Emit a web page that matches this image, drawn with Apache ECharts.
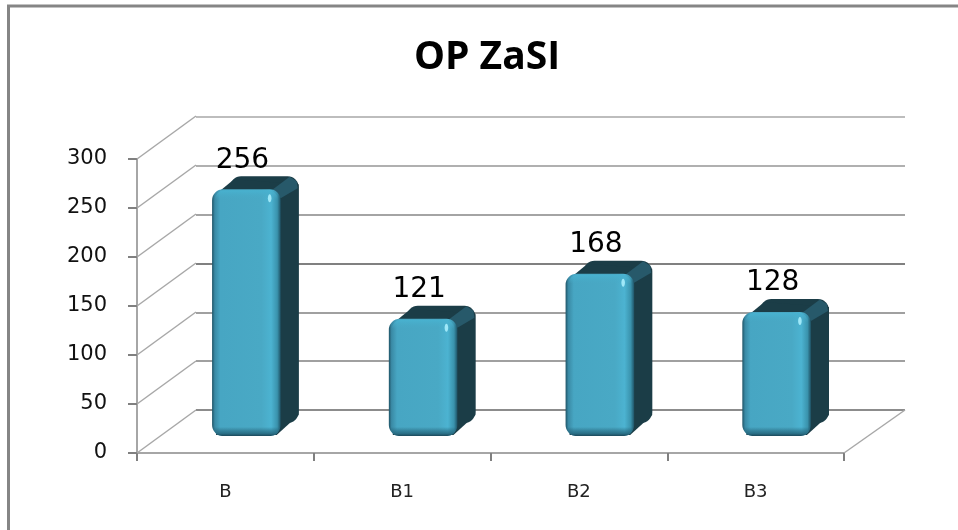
<!DOCTYPE html>
<html>
<head>
<meta charset="utf-8">
<style>html,body{margin:0;padding:0;background:#fff}#c{width:958px;height:530px}</style>
<script src="https://cdn.jsdelivr.net/npm/echarts@6/dist/echarts.min.js"></script>
</head>
<body>
<div id="c"></div>
<script>
const titleText = 'OP ZaSI';
const categories = ['B', 'B1', 'B2', 'B3'];
const values = [256, 121, 168, 128];
const yTicks = [0, 50, 100, 150, 200, 250, 300];

const FONT = '"DejaVu Sans", sans-serif';
const DEPTH_X = 59, DEPTH_Y = -43;   // wall depth
const BAR_DX = 18, BAR_DY = -13;     // bar depth

const chart = echarts.init(document.getElementById('c'), null, {renderer: 'canvas'});

function wallLines(params, api) {
  const left = api.coord([0, api.value(0)]);
  const x = left[0] - api.size([1, 0])[0] / 2;
  return {type: 'line', silent: true,
    shape: {x1: x, y1: left[1], x2: x + DEPTH_X, y2: left[1] + DEPTH_Y},
    style: {stroke: '#a8a8a8', lineWidth: 1.5}};
}
function floorEdge(params, api) {
  const p = api.coord([3, 0]);
  const x = p[0] + api.size([1, 0])[0] / 2;
  return {type: 'line', silent: true,
    shape: {x1: x, y1: p[1], x2: x + 61, y2: p[1] + DEPTH_Y},
    style: {stroke: '#a8a8a8', lineWidth: 1.5}};
}
function bar3d(params, api) {
  const i = api.value(0), v = api.value(1);
  const top = api.coord([i, v]), base = api.coord([i, 0]);
  const w = api.size([1, 0])[0] * 0.388;
  const x = top[0] - w / 2, y = top[1] - 1, h = base[1] - top[1] + 1;
  const dark = '#1b3d47';
  const hG = new echarts.graphic.LinearGradient(0, 0, 1, 0, [
    {offset: 0, color: '#1f5467'}, {offset: 0.04, color: '#3a8aa5'},
    {offset: 0.12, color: '#47a6c3'}, {offset: 0.72, color: '#49a9c5'},
    {offset: 0.86, color: '#4cb3d1'}, {offset: 0.95, color: '#3a93ad'},
    {offset: 1, color: '#1f5366'}]);
  const tG = new echarts.graphic.LinearGradient(0, 0, 0, 1, [
    {offset: 0, color: 'rgba(72,178,208,1)'}, {offset: 1, color: 'rgba(72,170,198,0)'}]);
  const bG = new echarts.graphic.LinearGradient(0, 0, 0, 1, [
    {offset: 0, color: 'rgba(30,85,105,0)'}, {offset: 0.7, color: 'rgba(36,100,122,0.8)'},
    {offset: 1, color: 'rgba(28,72,90,1)'}]);
  return {type: 'group', silent: true, children: [
    {type: 'rect', shape: {x: x + BAR_DX, y: y + BAR_DY, width: w, height: h, r: 11},
      style: {fill: dark}},
    {type: 'polygon', shape: {points: [
      [x + 5, y + 4], [x + BAR_DX + 4, y + BAR_DY + 3],
      [x + w + BAR_DX, y + BAR_DY + 8],
      [x + w + BAR_DX, y + h + BAR_DY - 8], [x + w - 4, y + h - 1], [x + 4, y + h - 1]]},
      style: {fill: dark}},
    {type: 'polygon', shape: {points: [
      [x + w - 9, y + 1], [x + w + BAR_DX - 9, y + BAR_DY + 0.5],
      [x + w + BAR_DX - 2, y + BAR_DY + 5], [x + w + BAR_DX - 1, y + BAR_DY + 12], [x + w, y + 9]]},
      style: {fill: '#27596a'}},
    {type: 'rect', shape: {x: x, y: y, width: w, height: h, r: 11}, style: {fill: hG}},
    {type: 'rect', shape: {x: x + 3, y: y + 1, width: w - 6, height: 9, r: [9, 9, 0, 0]}, style: {fill: tG}},
    {type: 'rect', shape: {x: x + 1, y: y + h - 9, width: w - 2, height: 9, r: [0, 0, 10, 10]}, style: {fill: bG}},
    {type: 'ellipse', shape: {cx: x + w - 11, cy: y + 9, rx: 1.8, ry: 4}, style: {fill: '#9fe8f8'}},
    {type: 'text', style: {text: String(v), x: top[0] - 4, y: y - 29, align: 'center',
      verticalAlign: 'middle', fill: '#000', font: '28px ' + FONT}}
  ]};
}

chart.setOption({
  animation: false,
  backgroundColor: '#fff',
  title: {text: titleText, left: 487, top: 33, textAlign: 'center',
    textStyle: {fontFamily: '"Open Sans", sans-serif', fontWeight: 'bold', fontSize: 39, color: '#000'}},
  graphic: [
    {type: 'polyline', silent: true, shape: {points: [[8.5, 530], [8.5, 6], [958, 6]]},
      style: {stroke: '#858585', fill: 'none', lineWidth: 3}}
  ],
  grid: [
    {left: 137, top: 159, width: 707, height: 294},
    {left: 196, top: 117, width: 709, height: 293},
    {left: 158, top: 148, width: 707, height: 288}
  ],
  xAxis: [
    {type: 'category', gridIndex: 0, data: categories,
      axisLine: {lineStyle: {color: '#a6a6a6', width: 2}},
      axisTick: {show: true, alignWithLabel: false, length: 8, lineStyle: {color: '#808080', width: 2}},
      axisLabel: {margin: 30, fontFamily: FONT, fontSize: 18, color: '#222'}},
    {type: 'category', gridIndex: 1, data: categories, show: false},
    {type: 'category', gridIndex: 2, data: categories, show: false}
  ],
  yAxis: [
    {type: 'value', gridIndex: 0, min: 0, max: 300, interval: 50,
      axisLine: {show: true, lineStyle: {color: '#a6a6a6', width: 2}},
      axisTick: {show: true, length: 9, lineStyle: {color: '#808080', width: 2}},
      axisLabel: {margin: 30, fontFamily: FONT, fontSize: 21, color: '#111', padding: [3, 0, 0, 0]},
      splitLine: {show: false}},
    {type: 'value', gridIndex: 1, min: 0, max: 300, interval: 50,
      axisLine: {show: false}, axisTick: {show: false}, axisLabel: {show: false},
      splitLine: {show: true, lineStyle: {
        color: ['#8c8c8c', '#a0a0a0', '#a0a0a0', '#808080', '#a4a4a4', '#b0b0b0', '#bdbdbd'], width: 2}}},
    {type: 'value', gridIndex: 2, min: 0, max: 300, show: false, splitLine: {show: false}}
  ],
  series: [
    {type: 'custom', xAxisIndex: 0, yAxisIndex: 0, z: 1, renderItem: wallLines, data: yTicks.map(v => [v]),
      encode: {y: 0}, silent: true, clip: false},
    {type: 'custom', xAxisIndex: 0, yAxisIndex: 0, z: 1, renderItem: floorEdge, data: [[0]],
      encode: {y: 0}, silent: true, clip: false},
    {type: 'custom', xAxisIndex: 2, yAxisIndex: 2, z: 5, renderItem: bar3d,
      data: values.map((v, i) => [i, v]), encode: {x: 0, y: 1}, silent: true, clip: false}
  ]
});
chart.setOption({title: {left: 482}});
</script>
</body>
</html>
